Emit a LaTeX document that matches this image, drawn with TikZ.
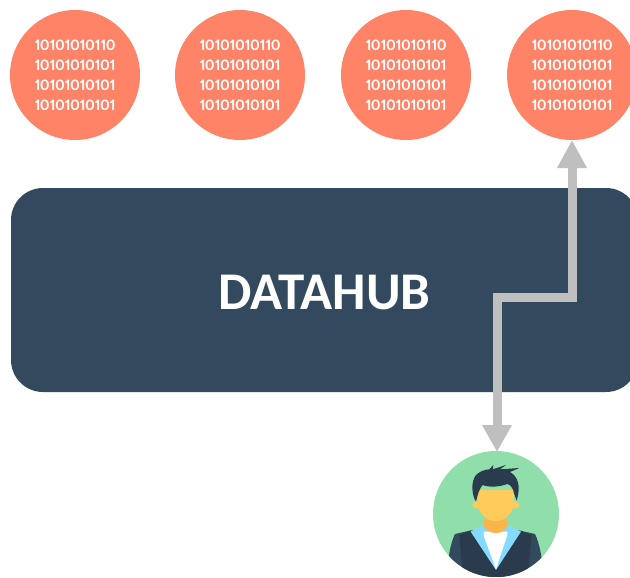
\documentclass[tikz,border=0pt]{standalone}
\usepackage{fontspec}
\setmainfont{Carlito}
\newfontfamily\bitfont[Numbers=Proportional]{Carlito}
\usetikzlibrary{arrows.meta}
\definecolor{coral}{HTML}{FF8367}
\definecolor{hubblue}{HTML}{33495D}
\definecolor{arrowgrey}{HTML}{BFBFBF}
\definecolor{mint}{HTML}{90DFAA}
\definecolor{hair}{HTML}{2B3B4E}
\definecolor{sleeve}{HTML}{324A5E}
\definecolor{skin}{HTML}{FFCB5B}
\definecolor{neck}{HTML}{F9B54C}
\definecolor{collar}{HTML}{84DBFF}
\tikzset{
  x=1pt,y=-1pt,
  datanode/.style={circle,fill=coral,minimum size=130pt,inner sep=0pt,text=white,align=center,
    font=\fontsize{16}{20}\selectfont\bitfont\bfseries},
  hubnode/.style={fill=hubblue,rounded corners=32pt,minimum width=627pt,minimum height=204pt,inner sep=0pt,
    text=white,font=\fontsize{53}{53}\selectfont\bfseries},
  usernode/.style={circle,fill=mint,minimum size=126pt,inner sep=0pt},
  link/.style={draw=arrowgrey,line width=9pt,line join=miter,
    {Triangle[length=27pt,width=28pt]}-{Triangle[length=28pt,width=28pt]}}
}
\newcommand{\bits}{10101010110\\10101010101\\10101010101\\10101010101}
\begin{document}
\begin{tikzpicture}
\useasboundingbox (0,0) rectangle (630,578);
\clip (0,0) rectangle (630,578);
\node[datanode] (d1) at (75,75) {\bits};
\node[datanode] (d2) at (240,75) {\bits};
\node[datanode] (d3) at (406,75) {\bits};
\node[datanode] (d4) at (572,75) {\bits};
\node[hubnode] (hub) at (324.5,290) {\rule{0pt}{39pt}DATAHUB};
\node[usernode] (user) at (496,514) {};
\coordinate (b1) at (497,297);
\coordinate (b2) at (572,297);
\draw[link] (497,452) -- (b1) -- (b2) -- (572,140);
% person
\begin{scope}
\clip (user.center) circle (63);
\begin{scope}[shift={(420,440)},x=0.3333pt,y=-0.3333pt]
  % jacket
  \fill[sleeve] (105,282) -- (150,272) -- (300,272) -- (345,282) .. controls (358,310) and (365,340) .. (372,420) -- (80,420) .. controls (85,340) and (92,310) .. (105,282) -- cycle;
  \fill[hair] (118,285) -- (150,272) -- (300,272) -- (335,285) -- (322,420) -- (130,420) -- cycle;
  % collar
  \fill[collar] (152,275) -- (192,255) -- (262,255) -- (303,275) -- (228,390) -- cycle;
  \fill[white] (192,275) -- (262,275) -- (262,285) -- (228,388) -- (192,290) -- cycle;
  % neck
  \fill[neck] (192,240) -- (262,240) -- (262,262) .. controls (245,285) and (210,285) .. (192,262) -- cycle;
  % ears
  \fill[skin] (168,195) circle (11);
  \fill[skin] (287,195) circle (11);
  % face
  \fill[skin] (172,150) -- (282,150) -- (282,190) .. controls (278,225) and (250,243) .. (227,243) .. controls (204,243) and (176,225) .. (172,190) -- cycle;
  % hair
  \fill[hair] (168,185) .. controls (155,165) and (152,125) .. (168,105) .. controls (178,95) and (195,88) .. (208,88)
     -- (220,75) -- (218,88) -- (258,75) -- (240,88) -- (298,84) -- (270,96)
     .. controls (295,110) and (303,140) .. (290,182)
     -- (282,160) .. controls (280,145) and (272,135) .. (262,132) .. controls (235,142) and (205,142) .. (188,135)
     .. controls (178,145) and (173,165) .. (168,185) -- cycle;
\end{scope}
\end{scope}
\end{tikzpicture}
\end{document}
